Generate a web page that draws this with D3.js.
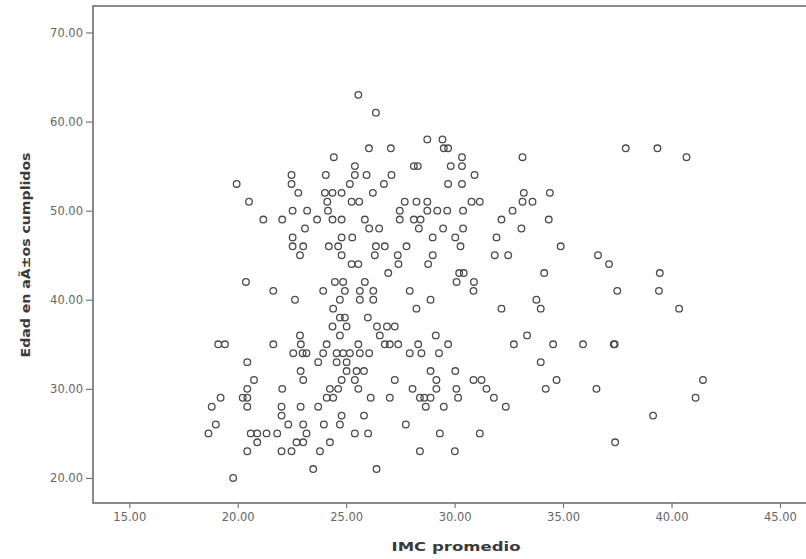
<!DOCTYPE html>
<html>
<head>
<meta charset="utf-8">
<script src="https://cdn.jsdelivr.net/npm/d3@7"></script>
<style>
  body { margin: 0; background: #fff; }
  svg { display: block; }
</style>
</head>
<body>
<div id="chart-area"></div>
<script>
// values (IMC promedio, Edad)
let imc = [
  24.43, 19.95, 22.48, 22.48, 24.06, 20.52, 22.79, 24.02, 24.37, 24.79, 24.13, 21.18, 22.05, 22.53, 23.20, 23.66, 24.37, 24.79, 24.16, 23.10,
  22.53, 22.53, 23.02, 22.87, 24.20, 24.63, 24.79, 24.79, 20.38, 21.64, 23.94, 24.48, 24.86,
  25.56, 26.37, 26.05, 27.06, 28.74, 29.44, 29.50, 29.70, 28.12, 28.30, 30.34, 29.82, 30.34, 30.92, 25.40, 25.40, 25.94, 27.09,
  25.17, 26.74, 26.23, 29.70, 30.34, 25.25, 25.60, 27.70, 28.24, 28.74, 30.78, 31.16, 27.47, 28.74, 29.20, 29.66, 30.39, 32.67,
  25.86, 27.47, 28.12, 28.43, 32.16, 26.06, 26.52, 28.35, 29.47, 30.39, 25.28, 28.99, 30.03, 31.93, 26.37, 26.78, 27.78, 30.27,
  26.32, 27.38, 28.99, 31.85, 32.47, 25.25, 25.56, 27.41, 28.78, 26.94, 30.21, 30.42, 25.86, 30.09, 30.89, 27.93,
  33.13, 37.89, 39.35, 40.69, 33.19, 34.39, 33.13, 33.59, 34.34, 33.08, 34.89, 36.61, 37.12, 34.13, 39.46, 37.50, 39.42,
  33.77, 33.97, 40.35, 33.34, 32.73, 34.54, 35.92, 37.34, 37.38, 33.97, 34.70, 34.20, 36.54, 41.45, 41.11, 39.15, 37.40,
  22.64, 24.71, 24.40, 24.37, 24.71, 22.87, 19.10, 19.41, 21.64, 22.91, 24.10, 22.56, 22.99, 23.17, 23.94, 24.56, 20.44, 23.71,
  24.56, 22.90, 23.02, 20.75, 20.44, 22.05, 24.25, 24.63, 19.21, 20.23, 20.44, 24.10, 24.40, 18.80, 20.44, 22.02, 22.90, 23.71,
  22.02, 22.33, 23.02, 23.17, 23.97, 24.71, 18.99, 18.65, 20.60, 20.90, 21.33, 21.82, 20.90, 22.71, 23.02, 24.25, 20.44, 22.02,
  22.48, 23.79, 23.48, 19.79, 24.71,
  28.89, 30.87, 32.16, 28.24, 24.94, 25.63, 26.25, 25.63, 26.25, 24.94, 26.00, 25.02, 26.42, 26.88, 27.24, 26.55, 29.13, 26.78,
  27.01, 27.40, 28.32, 29.70, 25.56, 24.86, 25.17, 25.63, 26.06, 27.93, 28.47, 29.28, 25.02, 25.02, 25.48, 25.82, 28.89, 30.03,
  24.79, 25.40, 27.24, 29.16, 30.87, 31.24, 25.56, 28.06, 29.16, 30.08, 31.47, 26.13, 27.01, 28.40, 28.60, 28.89, 30.16, 31.81,
  28.67, 29.50, 32.36, 24.79, 25.82, 25.40, 26.01, 27.75, 29.32, 31.16, 28.40, 30.01, 26.40
]
let edad = [
  56, 53, 54, 53, 54, 51, 52, 52, 52, 52, 51, 49, 49, 50, 50, 49, 49, 49, 50, 48,
  47, 46, 46, 45, 46, 46, 47, 45, 42, 41, 41, 42, 42,
  63, 61, 57, 57, 58, 58, 57, 57, 55, 55, 56, 55, 55, 54, 55, 54, 54, 54,
  53, 53, 52, 53, 53, 51, 51, 51, 51, 51, 51, 51, 50, 50, 50, 50, 50, 50,
  49, 49, 49, 49, 49, 48, 48, 48, 48, 48, 47, 47, 47, 47, 46, 46, 46, 46,
  45, 45, 45, 45, 45, 44, 44, 44, 44, 43, 43, 43, 42, 42, 42, 41,
  56, 57, 57, 56, 52, 52, 51, 51, 49, 48, 46, 45, 44, 43, 43, 41, 41,
  40, 39, 39, 36, 35, 35, 35, 35, 35, 33, 31, 30, 30, 31, 29, 27, 24,
  40, 40, 39, 37, 36, 36, 35, 35, 35, 35, 35, 34, 34, 34, 34, 34, 33, 33,
  33, 32, 31, 31, 30, 30, 30, 30, 29, 29, 29, 29, 29, 28, 28, 28, 28, 28,
  27, 26, 26, 25, 26, 26, 26, 25, 25, 25, 25, 25, 24, 24, 24, 24, 23, 23,
  23, 23, 21, 20, 38,
  40, 41, 39, 39, 41, 41, 41, 40, 40, 38, 38, 37, 37, 37, 37, 36, 36, 35,
  35, 35, 35, 35, 35, 34, 34, 34, 34, 34, 34, 34, 33, 32, 32, 32, 32, 32,
  31, 31, 31, 31, 31, 31, 30, 30, 30, 30, 30, 29, 29, 29, 29, 29, 29, 29,
  28, 28, 28, 27, 27, 25, 25, 26, 25, 25, 23, 23, 21
]
let xTicks = [15, 20, 25, 30, 35, 40, 45]
let yTicks = [20, 30, 40, 50, 60, 70]

let svgWidth = 806
let svgHeight = 559

let svg = d3.select("#chart-area").append("svg")
  .attr("width", svgWidth)
  .attr("height", svgHeight)

let x = d3.scaleLinear()
  .domain([13.327, 46.8])
  .range([93, 819])

let y = d3.scaleLinear()
  .domain([17.19, 72.97])
  .range([503, 6])

let fmt = d3.format(".2f")

// frame (right edge runs off the page like the original)
svg.append("rect")
  .attr("x", x.range()[0])
  .attr("y", y.range()[1])
  .attr("width", x.range()[1] - x.range()[0])
  .attr("height", y.range()[0] - y.range()[1])
  .attr("fill", "#fff")
  .attr("stroke", "#6e6e6e")
  .attr("stroke-width", 1.6)

let yAxisGroup = svg.append("g")
  .attr("transform", "translate(" + x.range()[0] + ",0)")
  .call(d3.axisLeft(y).tickValues(yTicks).tickFormat(fmt).tickSize(7).tickPadding(3))

let xAxisGroup = svg.append("g")
  .attr("transform", "translate(0," + y.range()[0] + ")")
  .call(d3.axisBottom(x).tickValues(xTicks).tickFormat(fmt).tickSize(5).tickPadding(5))

svg.selectAll(".domain").remove()
svg.selectAll(".tick line").attr("stroke", "#777").attr("stroke-width", 1.2)
svg.selectAll(".tick text")
  .attr("fill", "#666")
  .style("font-family", "'DejaVu Sans', sans-serif")
  .style("font-size", "11.5px")

let points = imc.map((v, i) => { return { imc: v, edad: edad[i] } })

svg.append("g").selectAll("circle")
  .data(points)
  .enter()
  .append("circle")
    .attr("cx", (d) => { return x(d.imc) })
    .attr("cy", (d) => { return y(d.edad) })
    .attr("r", 3.3)
    .attr("fill", "none")
    .attr("stroke", "#4a4a4a")
    .attr("stroke-width", 1.3)

svg.append("text")
  .attr("x", 456)
  .attr("y", 551)
  .attr("text-anchor", "middle")
  .attr("textLength", 129)
  .attr("lengthAdjust", "spacingAndGlyphs")
  .style("font-family", "'DejaVu Sans', sans-serif")
  .style("font-weight", "bold")
  .style("font-size", "13px")
  .attr("fill", "#3a3a3a")
  .text("IMC promedio")

svg.append("text")
  .attr("transform", "translate(30,255) rotate(-90)")
  .attr("text-anchor", "middle")
  .attr("textLength", 205)
  .attr("lengthAdjust", "spacingAndGlyphs")
  .style("font-family", "'DejaVu Sans', sans-serif")
  .style("font-weight", "bold")
  .style("font-size", "13px")
  .attr("fill", "#3a3a3a")
  .text("Edad en aÃ±os cumplidos")
</script>
</body>
</html>
